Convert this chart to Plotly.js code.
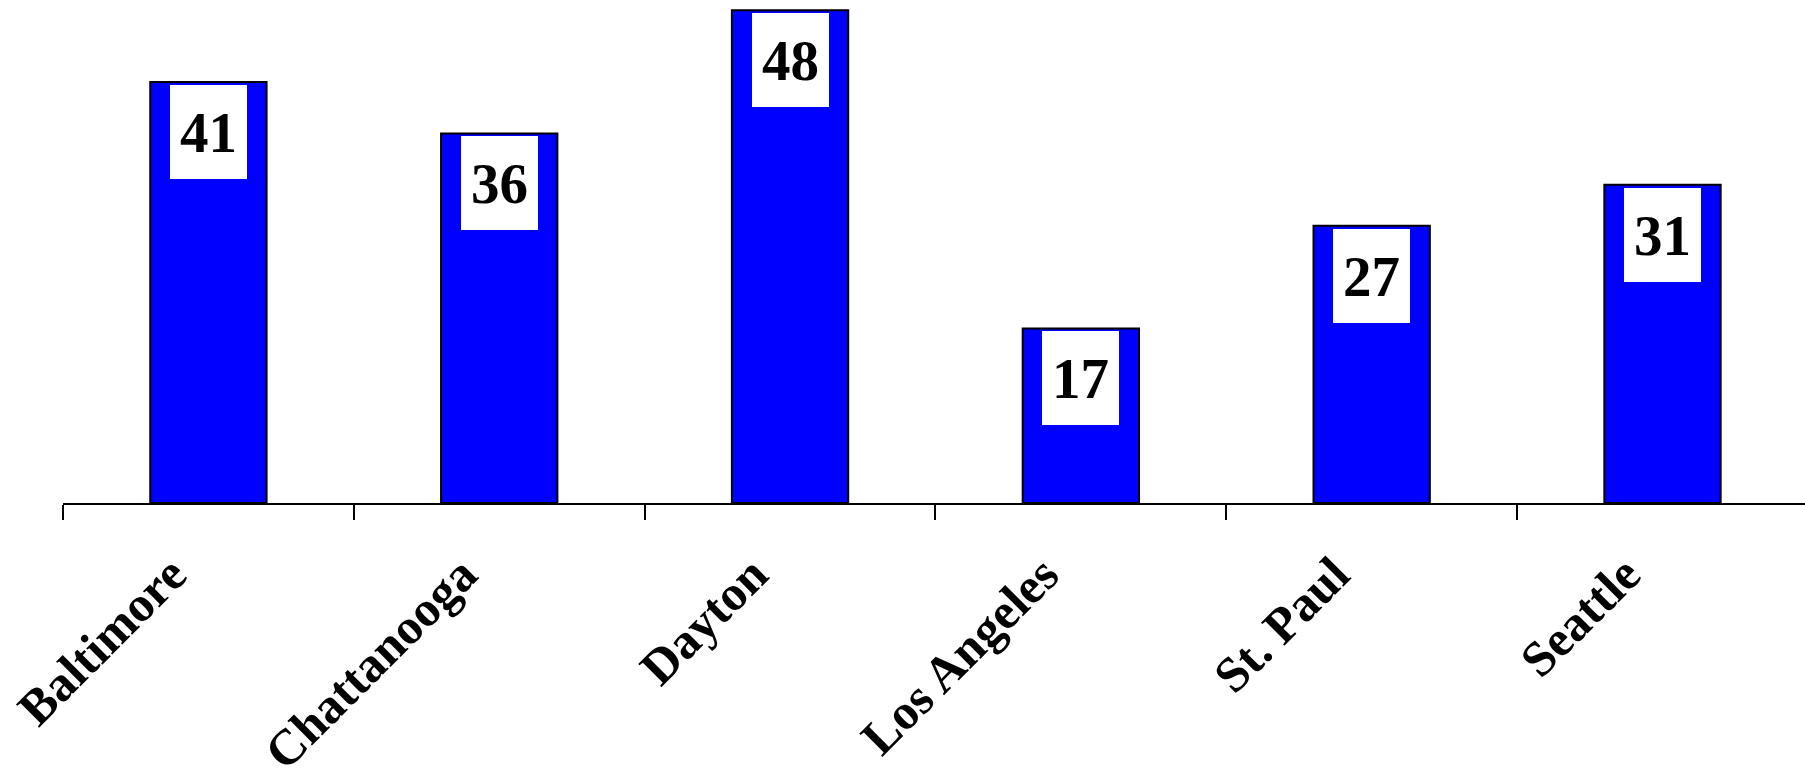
<!DOCTYPE html>
<html>
<head>
<meta charset="utf-8">
<script src="https://cdn.plot.ly/plotly-3.0.1.min.js"></script>
<style>html,body{margin:0;padding:0;background:#fff;}#chart{width:1805px;height:772px;}</style>
</head>
<body>
<div id="chart"></div>
<script>
const cities = ["Baltimore", "Chattanooga", "Dayton", "Los Angeles", "St. Paul", "Seattle"];
const values = [41, 36, 48, 17, 27, 31];

const serif = "Liberation Serif, Times New Roman, serif";

const trace = {
  type: "bar",
  x: cities,
  y: values,
  width: 0.4,
  marker: { color: "#0000FF", line: { color: "#000000", width: 2 } },
  hoverinfo: "x+y"
};

const annotations = cities.map((c, i) => ({
  x: c,
  y: values[i],
  xref: "x",
  yref: "y",
  yanchor: "top",
  xanchor: "center",
  yshift: -3,
  text: String(values[i]),
  showarrow: false,
  bgcolor: "#FFFFFF",
  borderwidth: 0,
  borderpad: 0,
  width: 77,
  height: 94,
  font: { family: serif, size: 57, color: "#000000", weight: "bold" }
}));

const layout = {
  width: 1805,
  height: 772,
  margin: { l: 63, r: 0, t: 0, b: 269, pad: 0 },
  paper_bgcolor: "#FFFFFF",
  plot_bgcolor: "#FFFFFF",
  showlegend: false,
  xaxis: {
    type: "category",
    range: [-0.5, 5.49],
    showline: true,
    linecolor: "#000000",
    linewidth: 2,
    ticks: "outside",
    tickson: "boundaries",
    ticklen: 15,
    tickwidth: 2,
    tickcolor: "#000000",
    tickangle: -45,
    ticklabelshift: -37,
    ticklabelstandoff: 20,
    showgrid: false,
    zeroline: false,
    automargin: false,
    tickfont: { family: serif, size: 50, color: "#000000", weight: "bold" }
  },
  yaxis: {
    range: [0, 49],
    visible: false,
    showgrid: false,
    zeroline: false,
    automargin: false
  },
  annotations: annotations
};

Plotly.newPlot("chart", [trace], layout, { displayModeBar: false, staticPlot: true });
</script>
</body>
</html>
